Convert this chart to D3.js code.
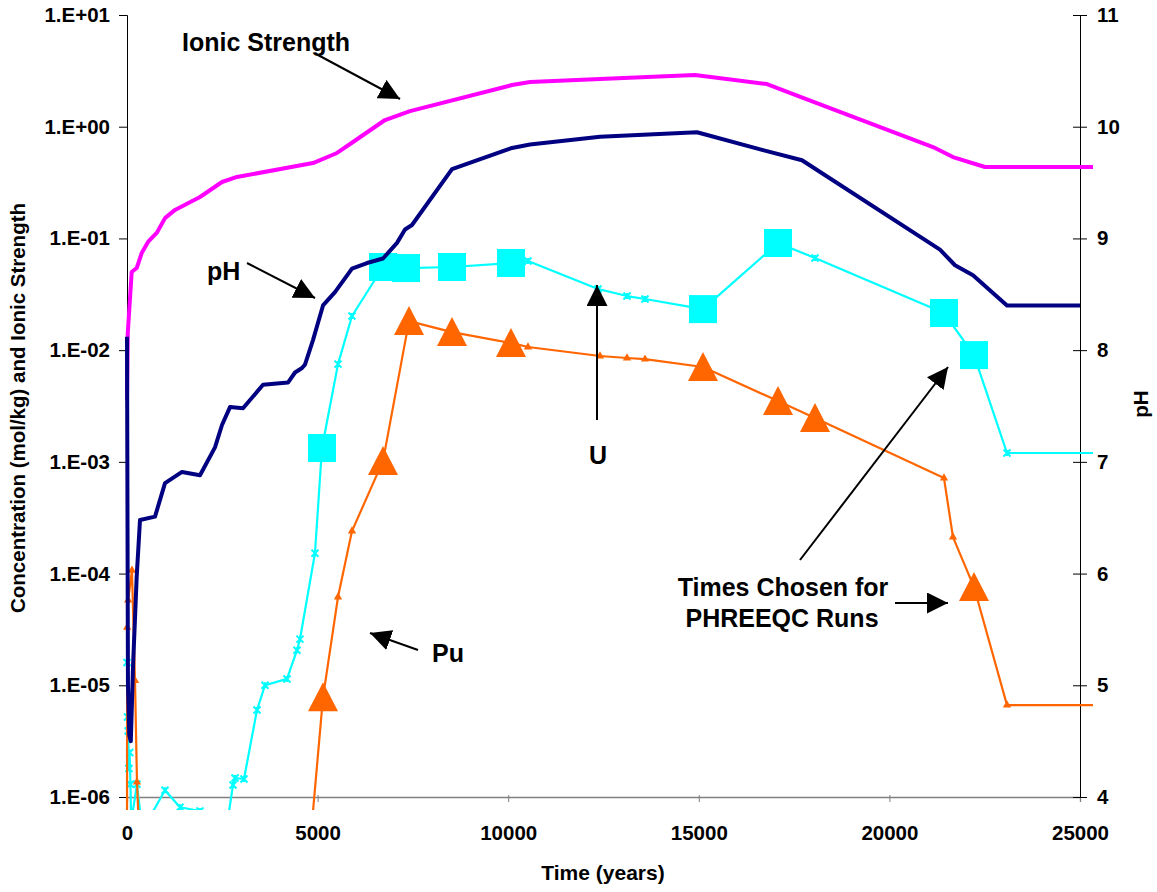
<!DOCTYPE html>
<html>
<head>
<meta charset="utf-8">
<script src="https://cdn.jsdelivr.net/npm/d3@7"></script>
<style>
  html, body { margin: 0; padding: 0; background: #fff; }
  svg { display: block; font-family: "Liberation Sans", Arial, sans-serif; }
</style>
</head>
<body>
<svg id="chart" width="1157" height="892"></svg>
<script>
// ---------------- DATA ----------------
const xTicks = [0, 5000, 10000, 15000, 20000, 25000];
const leftTicks = [1e-6, 1e-5, 1e-4, 1e-3, 1e-2, 1e-1, 1, 10];
const leftTickLabels = ["1.E-06", "1.E-05", "1.E-04", "1.E-03", "1.E-02", "1.E-01", "1.E+00", "1.E+01"];
const rightTicks = [4, 5, 6, 7, 8, 9, 10, 11];

// Ionic strength (mol/kg), left log axis
const ionicStrength = [
  [0, 0.0036], [20, 0.0142], [123, 0.050], [254, 0.0543], [386, 0.074], [551, 0.093],
  [779, 0.112], [997, 0.152], [1259, 0.180], [1915, 0.235], [2492, 0.32], [2886, 0.355],
  [4879, 0.473], [5509, 0.582], [5929, 0.730], [6768, 1.148], [7424, 1.38], [10100, 2.36],
  [10572, 2.51], [12408, 2.67], [14900, 2.90], [16789, 2.41], [17733, 1.81], [21144, 0.658],
  [21668, 0.535], [22508, 0.436], [25341, 0.436]
];

// pH, right axis
const pH = [
  [0, 8.12], [25, 5.0], [60, 4.55], [100, 4.5], [157, 5.16], [254, 5.97], [341, 6.48],
  [735, 6.51], [997, 6.81], [1443, 6.91], [1915, 6.88], [2308, 7.13], [2492, 7.33],
  [2702, 7.49], [3043, 7.48], [3568, 7.69], [4223, 7.71], [4407, 7.80], [4591, 7.84],
  [4669, 7.87], [4879, 8.09], [5142, 8.40], [5456, 8.52], [5902, 8.73], [6296, 8.78],
  [6716, 8.82], [7083, 8.96], [7293, 9.08], [7476, 9.12], [8526, 9.62], [10100, 9.81],
  [10572, 9.84], [12408, 9.91], [14953, 9.95], [16684, 9.79], [17707, 9.70], [21327, 8.90],
  [21721, 8.76], [22193, 8.67], [23085, 8.40], [25000, 8.40]
];

// U concentration (mol/kg)
const uranium = [
  [0, 1.6e-5], [15, 5.2e-6], [30, 3.9e-6], [50, 1.8e-6], [70, 2.5e-6], [90, 1.3e-6],
  [110, 6e-7], [262, 1.3e-6], [400, 5e-7], [997, 1.15e-6], [1390, 8.1e-7], [1915, 7.5e-7],
  [2500, 3e-7], [2781, 1.28e-6], [2833, 1.48e-6], [3069, 1.45e-6], [3410, 6.0e-6],
  [3620, 1.0e-5], [4197, 1.14e-5], [4459, 2.06e-5], [4538, 2.59e-5], [4931, 1.52e-4],
  [5115, 1.33e-3], [5535, 7.5e-3], [5902, 0.0202], [6716, 0.0555], [7319, 0.0543],
  [8526, 0.0555], [10073, 0.0603], [10519, 0.0628], [12356, 0.0353], [13116, 0.0305],
  [13589, 0.0287], [15110, 0.0233], [17078, 0.091], [18048, 0.0668], [21432, 0.0215],
  [22219, 0.00903], [23085, 1.2e-3], [25341, 1.2e-3]
];

// Pu concentration (mol/kg)
const plutonium = [
  [0, 5e-7], [5, 3.3e-5], [30, 5.8e-5], [130, 1.07e-4], [210, 1.1e-5], [262, 1.36e-6],
  [400, 1e-7], [4700, 1.5e-7], [5142, 7.8e-6], [5535, 6.16e-5], [5902, 2.4e-4],
  [6716, 1.02e-3], [7398, 0.0182], [8526, 0.0145], [10073, 0.0116], [10519, 0.01067],
  [12408, 8.86e-3], [13116, 8.5e-3], [13589, 8.3e-3], [15110, 7.06e-3], [17078, 3.5e-3],
  [18048, 2.47e-3], [21432, 7.16e-4], [21668, 2.12e-4], [22219, 7.57e-5], [23085, 6.65e-6],
  [25341, 6.65e-6]
];

// Times chosen for PHREEQC runs
const chosenU = [
  [5115, 1.33e-3], [6716, 0.0555], [7319, 0.0543], [8526, 0.0555], [10073, 0.0603],
  [15110, 0.0233], [17078, 0.091], [21432, 0.0215], [22219, 0.00903]
];
const chosenPu = [
  [5142, 7.8e-6], [6716, 1.02e-3], [7398, 0.0182], [8526, 0.0145], [10073, 0.0116],
  [15110, 7.06e-3], [17078, 3.5e-3], [18048, 2.47e-3], [22219, 7.57e-5]
];

// ---------------- CHART ----------------
const svg = d3.select("#chart");
const plotLeft = 127, plotRight = 1080, plotTop = 15, plotBottom = 797;

const x = d3.scaleLinear().domain([0, 25000]).range([plotLeft, plotRight]);
const yL = d3.scaleLog().domain([1e-6, 10]).range([plotBottom, plotTop]);
const yR = d3.scaleLinear().domain([4, 11]).range([plotBottom, plotTop]);

const defs = svg.append("defs");
defs.append("clipPath").attr("id", "plotClip")
  .append("rect").attr("x", 108).attr("y", 0).attr("width", 1093 - 108).attr("height", 810);

defs.append("marker")
  .attr("id", "arrow").attr("viewBox", "0 0 10 10")
  .attr("refX", 10).attr("refY", 5)
  .attr("markerWidth", 21).attr("markerHeight", 21)
  .attr("markerUnits", "userSpaceOnUse").attr("orient", "auto")
  .append("path").attr("d", "M0,0 L10,5 L0,10 Z").attr("fill", "#000");

const FONT = "Liberation Sans, Arial, sans-serif";

// X axis
const xAxis = svg.append("g").attr("transform", `translate(0,${plotBottom})`)
  .call(d3.axisBottom(x).tickValues(xTicks).tickFormat(d3.format("d")).tickSize(5));
xAxis.select(".domain").attr("stroke", "#808080").attr("stroke-width", 1.3);
xAxis.selectAll(".tick line").attr("stroke", "#808080").attr("y1", -2).attr("y2", 5);
xAxis.selectAll(".tick text").attr("y", 43).attr("dy", 0)
  .attr("font-size", 20.5).attr("font-weight", "bold").attr("fill", "#000").attr("font-family", FONT);

// Left axis
const yAxisL = svg.append("g").attr("transform", `translate(${plotLeft},0)`)
  .call(d3.axisLeft(yL).tickValues(leftTicks).tickSizeOuter(0).tickSize(8).tickPadding(9)
    .tickFormat((d, i) => leftTickLabels[i]));
yAxisL.select(".domain").attr("stroke", "#000");
yAxisL.selectAll(".tick text").attr("font-size", 20.5).attr("font-weight", "bold").attr("fill", "#000")
  .attr("font-family", FONT);

// Right axis
const yAxisR = svg.append("g").attr("transform", `translate(${plotRight},0)`)
  .call(d3.axisRight(yR).tickValues(rightTicks).tickSizeOuter(0).tickSize(7).tickPadding(10)
    .tickFormat(d3.format("d")));
yAxisR.select(".domain").attr("stroke", "#000");
yAxisR.selectAll(".tick line").attr("x1", -7).attr("x2", 7);
yAxisR.selectAll(".tick text").attr("font-size", 20.5).attr("font-weight", "bold").attr("fill", "#000")
  .attr("font-family", FONT);

// Axis titles
svg.append("text").attr("x", 603).attr("y", 880).attr("text-anchor", "middle")
  .attr("font-size", 21).attr("font-weight", "bold").text("Time (years)");
svg.append("text").attr("transform", "translate(25,408) rotate(-90)").attr("text-anchor", "middle")
  .attr("font-size", 20.5).attr("font-weight", "bold").text("Concentration (mol/kg) and Ionic Strength");
svg.append("text").attr("transform", "translate(1148,404) rotate(-90)").attr("text-anchor", "middle")
  .attr("font-size", 20.5).attr("font-weight", "bold").text("pH");

// Data
const plot = svg.append("g").attr("clip-path", "url(#plotClip)");
const lineL = d3.line().x(d => x(d[0])).y(d => yL(d[1]));
const lineR = d3.line().x(d => x(d[0])).y(d => yR(d[1]));

plot.append("path").datum(ionicStrength).attr("d", lineL)
  .attr("fill", "none").attr("stroke", "#FF00FF").attr("stroke-width", 4).attr("stroke-linejoin", "round");

plot.append("path").datum(uranium).attr("d", lineL)
  .attr("fill", "none").attr("stroke", "#00FFFF").attr("stroke-width", 2.2).attr("stroke-linejoin", "round");
plot.append("g").selectAll("path").data(uranium.slice(0, -1)).join("path")
  .attr("transform", d => `translate(${x(d[0])},${yL(d[1])})`)
  .attr("d", "M-3.5,-3.5L3.5,3.5M-3.5,3.5L3.5,-3.5M0,-3L0,3")
  .attr("stroke", "#00FFFF").attr("stroke-width", 2).attr("fill", "none");

plot.append("path").datum(plutonium).attr("d", lineL)
  .attr("fill", "none").attr("stroke", "#FF6600").attr("stroke-width", 2.2).attr("stroke-linejoin", "round");
plot.append("g").selectAll("path").data(plutonium.slice(0, -1)).join("path")
  .attr("transform", d => `translate(${x(d[0])},${yL(d[1])})`)
  .attr("d", d3.symbol(d3.symbolTriangle, 30))
  .attr("fill", "#FF6600");

plot.append("g").selectAll("rect").data(chosenU).join("rect")
  .attr("x", d => x(d[0]) - 14).attr("y", d => yL(d[1]) - 14)
  .attr("width", 28).attr("height", 28).attr("fill", "#00FFFF");

plot.append("g").selectAll("path").data(chosenPu).join("path")
  .attr("transform", d => `translate(${x(d[0])},${yL(d[1])})`)
  .attr("d", "M0,-15L15,14L-15,14Z")
  .attr("fill", "#FF6600");

plot.append("path").datum(pH).attr("d", lineR)
  .attr("fill", "none").attr("stroke", "#000080").attr("stroke-width", 4).attr("stroke-linejoin", "round");

// Annotations
const ann = svg.append("g").attr("font-size", 25).attr("font-weight", "bold").attr("fill", "#000");
ann.append("text").attr("x", 182).attr("y", 51).text("Ionic Strength");
ann.append("text").attr("x", 207).attr("y", 280).text("pH");
ann.append("text").attr("x", 598).attr("y", 464).attr("text-anchor", "middle").text("U");
ann.append("text").attr("x", 432).attr("y", 662).text("Pu");
ann.append("text").attr("x", 783).attr("y", 596).attr("text-anchor", "middle").text("Times Chosen for");
ann.append("text").attr("x", 782).attr("y", 627).attr("text-anchor", "middle").text("PHREEQC Runs");

const arrows = [
  [318, 55, 400, 99],
  [247, 263, 315, 298],
  [597, 420, 597, 285],
  [418, 650, 370, 633],
  [800, 560, 948, 367],
  [895, 603, 948, 603]
];
svg.append("g").selectAll("line").data(arrows).join("line")
  .attr("x1", d => d[0]).attr("y1", d => d[1]).attr("x2", d => d[2]).attr("y2", d => d[3])
  .attr("stroke", "#000").attr("stroke-width", 2).attr("marker-end", "url(#arrow)");
</script>
</body>
</html>
